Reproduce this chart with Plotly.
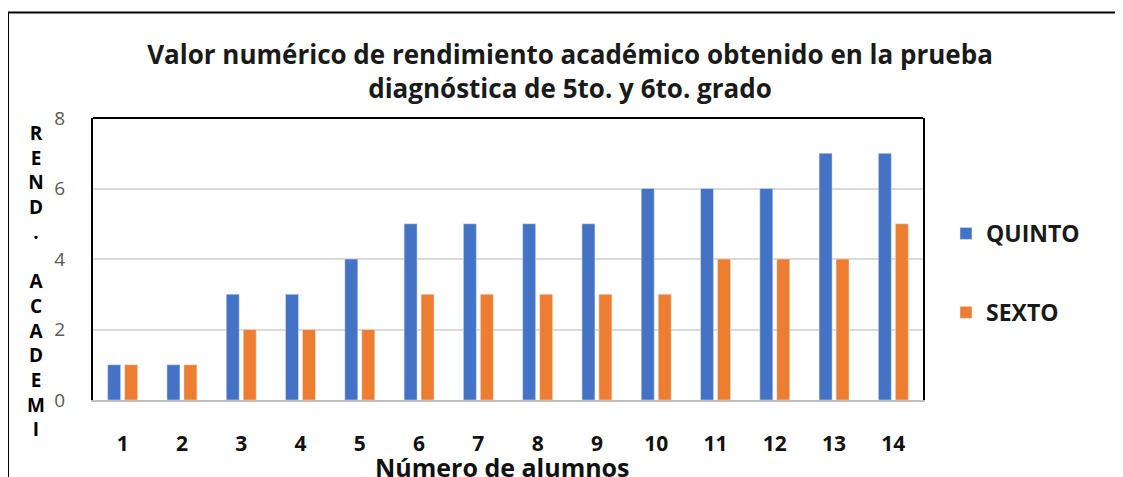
import plotly.graph_objects as go

categories = ["1", "2", "3", "4", "5", "6", "7", "8", "9", "10", "11", "12", "13", "14"]
quinto = [1, 1, 3, 3, 4, 5, 5, 5, 5, 6, 6, 6, 7, 7]
sexto = [1, 1, 2, 2, 2, 3, 3, 3, 3, 3, 4, 4, 4, 5]
series_names = ["QUINTO", "SEXTO"]
y_ticks = [0, 2, 4, 6, 8]
title_text = "Valor numérico de rendimiento académico obtenido en la prueba<br>diagnóstica de 5to. y 6to. grado"
x_title = "Número de alumnos"
y_title = "REND. ACADEMI"

# the page body has an 8px margin; work in screen pixels and shift
OFF = 8
SW, SH = 1123, 477
W, H = SW - OFF, SH - OFF
# plot area in screen pixels
PL, PR, PT, PB = 93, 923, 118, 400
L, R, T, B = PL - OFF, W - (PR - OFF), PT - OFF, H - (PB - OFF)
pw, ph = PR - PL, PB - PT

def px_x(x):
    return (x - PL) / pw

def px_y(y):
    return (PB - y) / ph

FONT = "Open Sans"

fig = go.Figure()
fig.add_trace(go.Bar(x=categories, y=quinto, name=series_names[0], marker_color="#4472C4",
                     legendgroup="a"))
fig.add_trace(go.Bar(x=categories, y=sexto, name=series_names[1], marker_color="#ED7D31",
                     legendgroup="b"))

ylabel = "<br>".join(c if c != " " else " " for c in y_title)

fig.update_layout(
    width=W, height=H,
    margin=dict(l=L, r=R, t=T, b=B, autoexpand=False),
    paper_bgcolor="white", plot_bgcolor="white",
    barmode="group", bargap=0.427, bargroupgap=0.235,
    title=dict(text="<b>" + title_text + "</b>", x=(570 - OFF) / W, xanchor="center",
               y=1 - (64 - OFF) / H, yanchor="middle",
               font=dict(family=FONT, size=26, color="#1a1a1a")),
    showlegend=True,
    legend=dict(x=px_x(946), xanchor="left", y=px_y(273), yanchor="middle",
                font=dict(family=FONT, size=23, color="#1a1a1a", weight="bold"),
                tracegroupgap=46, traceorder="grouped", bgcolor="rgba(0,0,0,0)"),
    font=dict(family=FONT),
)
fig.update_xaxes(
    type="category", showline=True, linecolor="#BFBFBF", linewidth=2,
    tickfont=dict(family=FONT, size=21, color="#111111", weight="bold"),
    ticks="", ticklabelstandoff=24,
)
fig.update_yaxes(
    range=[0, 8], tickvals=y_ticks, showgrid=True, gridcolor="#D9D9D9", gridwidth=2,
    showline=True, linecolor="black", linewidth=2, mirror=True,
    tickfont=dict(family=FONT, size=19, color="#595959"),
    ticks="", ticklabelstandoff=22, zeroline=False,
)
fig.add_shape(type="line", xref="paper", yref="paper", x0=0, x1=1, y0=1, y1=1,
              line=dict(color="black", width=2))
# outer frame
fig.add_shape(type="line", xref="paper", yref="paper", x0=px_x(8), x1=px_x(SW), y0=px_y(12.5), y1=px_y(12.5),
              line=dict(color="black", width=2))
fig.add_shape(type="line", xref="paper", yref="paper", x0=px_x(8), x1=px_x(8), y0=px_y(12.5), y1=px_y(SH),
              line=dict(color="black", width=2))
fig.add_annotation(text="<b>" + ylabel + "</b>", xref="paper", yref="paper",
                   x=px_x(36), y=px_y(281), xanchor="center", yanchor="middle",
                   showarrow=False, align="center",
                   font=dict(family=FONT, size=19, color="black"))
# x-axis title
fig.add_annotation(text="<b>" + x_title + "</b>", xref="paper", yref="paper",
                   x=px_x(502), y=px_y(467), xanchor="center", yanchor="middle",
                   showarrow=False,
                   font=dict(family=FONT, size=25, color="#111111"))

fig.write_html("out.html")
